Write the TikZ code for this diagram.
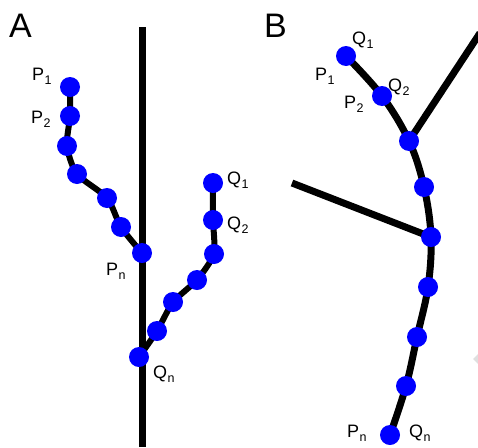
\documentclass[tikz,border=0pt]{standalone}
\usepackage{fontspec}
\setmainfont{Liberation Sans}
\usetikzlibrary{backgrounds}
\newcommand\lblsub[2]{#1\kern0.3pt\raisebox{-4pt}{\fontsize{12.5}{14}\selectfont #2}}
\begin{document}
\begin{tikzpicture}[x=1pt,y=-1pt,
  dot/.style={circle,fill=blue,draw=none,minimum size=20pt,inner sep=0pt},
  lbl/.style={anchor=base west,inner sep=0pt,font=\fontsize{18}{21}\selectfont},
  panel/.style={anchor=base west,inner sep=0pt,font=\fontsize{34}{40}\selectfont},
  trunk/.style={line width=7pt},
  chain/.style={line width=6pt,line join=round}]
\useasboundingbox (0,0) rectangle (478,447);
% ---------- Panel A ----------
\node[panel] (labA) at (9,37) {A};
\coordinate (atop) at (142,27);
\coordinate (abot) at (142,447);
\node[dot] (p1) at (70,87) {};
\node[dot] (p2) at (70,116) {};
\node[dot] (p3) at (67,146) {};
\node[dot] (p4) at (77,174) {};
\node[dot] (p5) at (107,198) {};
\node[dot] (p6) at (121,227) {};
\node[dot] (pn) at (142,253) {};
\node[dot] (q1) at (213,183) {};
\node[dot] (q2) at (213,220) {};
\node[dot] (q3) at (214,254) {};
\node[dot] (q4) at (197,280) {};
\node[dot] (q5) at (173,302) {};
\node[dot] (q6) at (157,331) {};
\node[dot] (qn) at (139,357) {};
\begin{scope}[on background layer]
\draw[trunk] (atop) -- (abot);
\draw[chain] plot[smooth,tension=0.45] coordinates {(p1.center) (p2.center) (p3.center) (p4.center) (p5.center) (p6.center) (pn.center)};
\draw[chain] plot[smooth,tension=0.35] coordinates {(q1.center) (q2.center) (q3.center) (q4.center) (q5.center) (q6.center) (qn.center)};
\end{scope}
\node[lbl] (lp1) at (32,80) {\lblsub{P}{1}};
\node[lbl] (lp2) at (31,123) {\lblsub{P}{2}};
\node[lbl] (lpn) at (106,275) {\lblsub{P}{n}};
\node[lbl] (lq1) at (227,184) {\lblsub{Q}{1}};
\node[lbl] (lq2) at (227,229) {\lblsub{Q}{2}};
\node[lbl] (lqn) at (153,378) {\lblsub{Q}{n}};
% ---------- Panel B ----------
\node[panel] (labB) at (264,37) {B};
\node[dot] (b1) at (346,56) {};
\node[dot] (b2) at (382,96) {};
\node[dot] (b3) at (409,141) {};
\node[dot] (b4) at (424,187) {};
\node[dot] (b5) at (431,237) {};
\node[dot] (b6) at (428,287) {};
\node[dot] (b7) at (417,337) {};
\node[dot] (b8) at (406,386) {};
\node[dot] (b9) at (390,435) {};
\coordinate (brtr) at (480,33);
\coordinate (brl) at (292,183);
\begin{scope}[on background layer]
\draw[trunk] plot[smooth,tension=0.6] coordinates {(b1.center) (b2.center) (b3.center) (b4.center) (b5.center) (b6.center) (b7.center) (b8.center) (b9.center)};
\draw[trunk] (b3.center) -- (brtr);
\draw[trunk] (b5.center) -- (brl);
\end{scope}
\node[lbl] (bq1) at (352,44) {\lblsub{Q}{1}};
\node[lbl] (bp1) at (315,80) {\lblsub{P}{1}};
\node[lbl] (bq2) at (388,91) {\lblsub{Q}{2}};
\node[lbl] (bp2) at (344,108) {\lblsub{P}{2}};
\node[lbl] (bpn) at (347,437) {\lblsub{P}{n}};
\node[lbl] (bqn) at (409,437) {\lblsub{Q}{n}};
\fill[gray!25] (473,359) -- (478,354) -- (478,364) -- cycle;
\end{tikzpicture}
\end{document}
